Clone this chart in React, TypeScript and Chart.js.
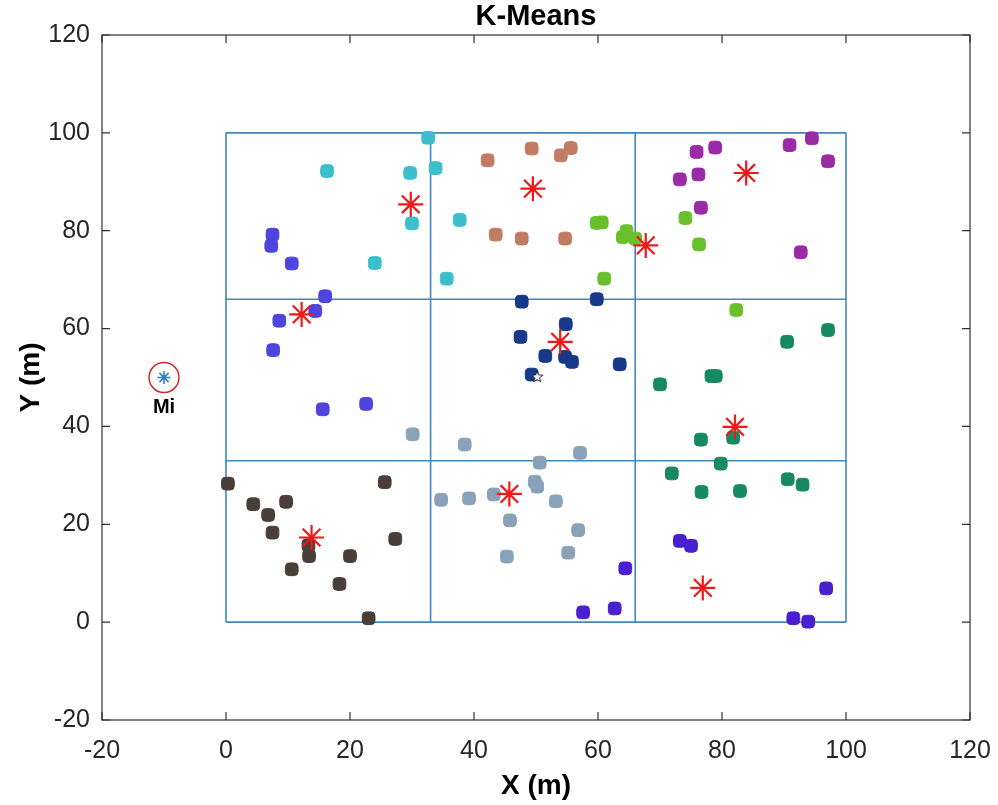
import React, { useEffect, useRef } from 'react';
import { Chart, registerables } from 'chart.js';

Chart.register(...registerables);

// ---- Data ----
const axisMin = -20;
const axisMax = 120;
const tickStep = 20;
const chartTitle = 'K-Means';

const regionX = [0, 33, 66, 100];
const regionY = [0, 33, 66, 100];

const cyanPts = [[16.3, 92.2], [29.7, 91.8], [32.6, 99.0], [33.8, 92.8], [30.0, 81.5], [37.7, 82.2], [24.0, 73.4], [35.6, 70.2]];
const bluePts = [[7.5, 79.2], [7.3, 76.9], [10.6, 73.3], [16.0, 66.6], [14.4, 63.6], [8.6, 61.6], [7.6, 55.6], [15.6, 43.5], [22.6, 44.6]];
const salmonPts = [[42.2, 94.4], [49.3, 96.8], [54.0, 95.4], [55.6, 96.9], [43.5, 79.2], [47.7, 78.4], [54.7, 78.4]];
const greenPts = [[59.8, 81.6], [60.6, 81.7], [64.0, 78.7], [64.6, 79.9], [66.0, 78.4], [61.0, 70.2], [74.1, 82.6], [76.3, 77.2], [82.3, 63.8]];
const purplePts = [[75.9, 96.1], [78.9, 97.0], [76.2, 91.5], [73.2, 90.5], [76.6, 84.7], [90.9, 97.5], [94.5, 98.9], [97.1, 94.2], [92.7, 75.6]];
const navyPts = [[47.7, 65.5], [59.8, 66.0], [54.8, 60.9], [47.5, 58.3], [51.5, 54.4], [54.7, 54.2], [55.8, 53.2], [63.5, 52.7], [49.3, 50.6]];
const grayPts = [[30.1, 38.4], [38.5, 36.3], [57.1, 34.6], [50.6, 32.6], [49.8, 28.7], [50.2, 27.7], [34.7, 25.0], [39.2, 25.3], [43.2, 26.1], [53.2, 24.7], [45.8, 20.8], [56.8, 18.8], [55.2, 14.2], [45.3, 13.4]];
const brownPts = [[0.3, 28.3], [4.4, 24.1], [9.7, 24.6], [6.8, 21.9], [7.5, 18.3], [13.3, 15.7], [13.4, 13.5], [10.6, 10.8], [20.0, 13.5], [18.3, 7.8], [23.0, 0.8], [25.6, 28.6], [27.3, 17.0]];
const tealPts = [[97.1, 59.7], [90.5, 57.3], [70.0, 48.6], [78.3, 50.3], [79.0, 50.3], [76.6, 37.3], [81.8, 37.7], [79.8, 32.4], [71.9, 30.4], [76.7, 26.6], [82.9, 26.8], [90.6, 29.2], [93.0, 28.1]];
const indigoPts = [[64.4, 11.0], [57.6, 2.0], [62.7, 2.8], [73.2, 16.6], [75.0, 15.6], [96.8, 6.9], [91.5, 0.8], [93.9, 0.1]];

const clusters = [cyanPts, bluePts, salmonPts, greenPts, purplePts, navyPts, grayPts, brownPts, tealPts, indigoPts];
const clusterColors = ['#3cbfcc', '#4d45dd', '#c27b63', '#69c02c', '#9a2aa6', '#17398a', '#8aa2b8', '#4a3e38', '#178a62', '#4a1fd0'];

const centroids = [[29.8, 85.4], [12.2, 62.9], [49.5, 88.6], [67.7, 77.0], [83.9, 91.8], [53.9, 57.3], [45.7, 26.2], [13.8, 17.3], [82.1, 39.9], [76.9, 7.0]];
const centerPoint = [[50.2, 50.1]];
const miPoint = [[-10, 50]];
const miLabel = 'Mi';

const FONT = "'Liberation Sans', Arial, Helvetica, sans-serif";

const toXY = (arr: number[][]) => arr.map(([x, y]) => ({ x, y }));

export default function App() {
  const ref = useRef<HTMLCanvasElement | null>(null);

  useEffect(() => {
    if (!ref.current) return;

    const pent = document.createElement('canvas');
    pent.width = 14;
    pent.height = 14;
    const pc = pent.getContext('2d')!;
    pc.strokeStyle = '#222';
    pc.lineWidth = 1;
    pc.fillStyle = '#ffffff';
    pc.beginPath();
    for (let i = 0; i < 10; i++) {
      const r = i % 2 === 0 ? 6 : 2.6;
      const a = -Math.PI / 2 + (i * Math.PI) / 5;
      const px = 7 + r * Math.cos(a);
      const py = 7 + r * Math.sin(a);
      if (i === 0) pc.moveTo(px, py);
      else pc.lineTo(px, py);
    }
    pc.closePath();
    pc.fill();
    pc.stroke();

    const lineColor = '#3f88c0';
    const lineSets: any[] = [];
    regionX.forEach((gx) => {
      lineSets.push({
        data: [{ x: gx, y: regionY[0] }, { x: gx, y: regionY[regionY.length - 1] }],
        showLine: true, pointRadius: 0, borderColor: lineColor, borderWidth: 1.6, order: 3,
      });
    });
    regionY.forEach((gy) => {
      lineSets.push({
        data: [{ x: regionX[0], y: gy }, { x: regionX[regionX.length - 1], y: gy }],
        showLine: true, pointRadius: 0, borderColor: lineColor, borderWidth: 1.6, order: 3,
      });
    });

    const clusterSets = clusters.map((pts, i) => ({
      data: toXY(pts),
      pointStyle: 'rectRounded',
      pointRadius: 7.4,
      backgroundColor: clusterColors[i],
      borderColor: clusterColors[i],
      borderWidth: 1,
      order: 2,
    }));

    const decorPlugin = {
      id: 'decor',
      afterDatasetsDraw(chart: any) {
        const { ctx, chartArea, scales } = chart;
        const xs = scales.x;
        const ys = scales.y;
        ctx.save();
        ctx.fillStyle = '#000';
        ctx.textAlign = 'center';
        ctx.textBaseline = 'middle';
        ctx.font = `bold 29px ${FONT}`;
        ctx.fillText(chartTitle, (chartArea.left + chartArea.right) / 2, 17);

        ctx.font = `bold 20px ${FONT}`;
        ctx.fillText(miLabel, xs.getPixelForValue(miPoint[0][0]), ys.getPixelForValue(miPoint[0][1]) + 30);

        ctx.strokeStyle = '#303030';
        ctx.lineWidth = 1.2;
        ctx.strokeRect(chartArea.left, chartArea.top, chartArea.right - chartArea.left, chartArea.bottom - chartArea.top);
        const tl = 8;
        ctx.beginPath();
        xs.ticks.forEach((t: any) => {
          const px = xs.getPixelForValue(t.value);
          ctx.moveTo(px, chartArea.bottom);
          ctx.lineTo(px, chartArea.bottom - tl);
          ctx.moveTo(px, chartArea.top);
          ctx.lineTo(px, chartArea.top + tl);
        });
        ys.ticks.forEach((t: any) => {
          const py = ys.getPixelForValue(t.value);
          ctx.moveTo(chartArea.left, py);
          ctx.lineTo(chartArea.left + tl, py);
          ctx.moveTo(chartArea.right, py);
          ctx.lineTo(chartArea.right - tl, py);
        });
        ctx.stroke();
        ctx.restore();
      },
    };

    const chart = new Chart(ref.current, {
      type: 'scatter',
      data: {
        datasets: [
          {
            data: toXY(centroids), pointStyle: 'star', pointRadius: 12.5,
            borderColor: '#f01818', backgroundColor: '#f01818', borderWidth: 2.2, order: 0,
          },
          {
            data: toXY(centerPoint), pointStyle: pent as any, pointRadius: 6, order: 0,
          },
          {
            data: toXY(miPoint), pointStyle: 'star', pointRadius: 6.5,
            borderColor: '#2a7fc0', backgroundColor: '#2a7fc0', borderWidth: 1.5, order: 0,
          },
          {
            data: toXY(miPoint), pointStyle: 'circle', pointRadius: 15,
            borderColor: '#d42a2a', backgroundColor: 'rgba(0,0,0,0)', borderWidth: 1.5, order: 0,
          },
          ...clusterSets,
          ...lineSets,
        ] as any,
      },
      options: {
        animation: false,
        responsive: false,
        events: [],
        layout: { padding: { left: 0, right: 28, top: 35, bottom: 0 } },
        plugins: {
          legend: { display: false },
          tooltip: { enabled: false },
          title: { display: false },
        },
        scales: {
          x: {
            type: 'linear',
            min: axisMin,
            max: axisMax,
            ticks: { stepSize: tickStep, color: '#262626', font: { family: FONT, size: 25 }, padding: 16, maxRotation: 0 },
            grid: { display: false, drawTicks: false },
            border: { display: false },
            title: { display: true, text: 'X (m)', color: '#000', font: { family: FONT, size: 28, weight: 'bold' }, padding: { top: 0, bottom: 2 } },
            afterFit: (s: any) => { s.height = 85; s.paddingLeft = 0; s.paddingRight = 0; },
          },
          y: {
            type: 'linear',
            min: axisMin,
            max: axisMax,
            ticks: { stepSize: tickStep, color: '#262626', font: { family: FONT, size: 25 }, padding: 12 },
            grid: { display: false, drawTicks: false },
            border: { display: false },
            title: { display: true, text: 'Y (m)', color: '#000', font: { family: FONT, size: 28, weight: 'bold' }, padding: { top: 14, bottom: 0 } },
            afterFit: (s: any) => { s.width = 102; s.paddingTop = 0; s.paddingBottom = 0; },
          },
        },
      } as any,
      plugins: [decorPlugin],
    });

    return () => chart.destroy();
  }, []);

  return (
    <div style={{ position: 'absolute', left: 0, top: 0, width: 998, height: 805, background: '#fff' }}>
      <canvas ref={ref} width={998} height={805} style={{ display: 'block', width: 998, height: 805 }} />
    </div>
  );
}
